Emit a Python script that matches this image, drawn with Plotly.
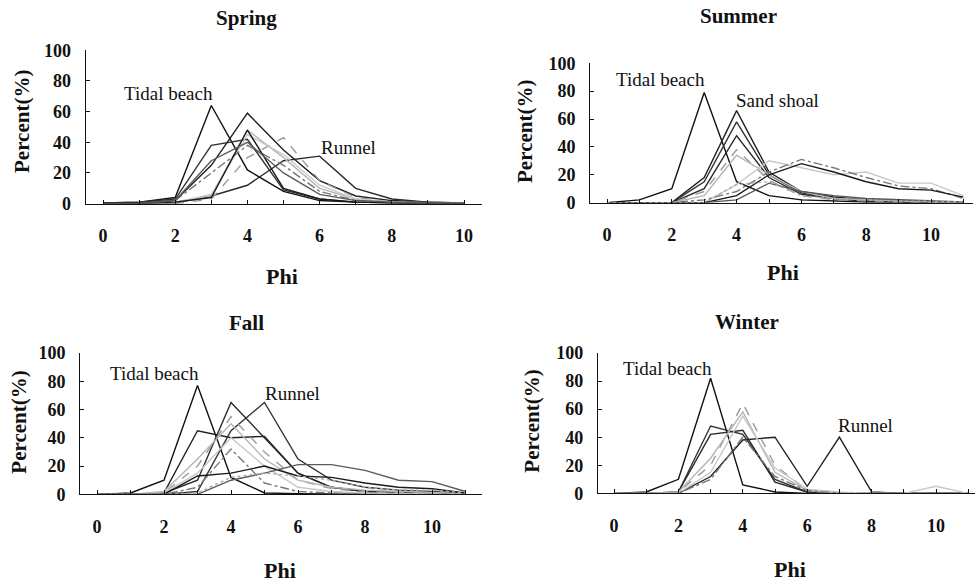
import plotly.graph_objects as go

# ---------------- data ----------------
phi_spring = [0, 1, 2, 3, 4, 5, 6, 7, 8, 9, 10]
spring_series = {
    "Tidal beach": [0.5, 1, 4, 64, 22, 8, 2, 1, 0.5, 0.3, 0.2],
    "S2": [0, 0.5, 2, 25, 59, 35, 15, 5, 2, 1, 0.5],
    "S3": [0.5, 1, 3, 38, 42, 9, 3, 1, 0.5, 0.3, 0.2],
    "Runnel": [0, 0, 0.5, 5, 12, 28, 31, 10, 3, 1, 0.5],
    "S5": [0, 0, 0, 3, 30, 43, 15, 4, 1, 0.5, 0.3],
    "S6": [0, 0, 1, 5, 48, 30, 10, 3, 1, 0.5, 0.3],
    "S7": [0, 0, 1, 6, 45, 32, 12, 3, 1, 0.5, 0.3],
    "S8": [0, 0, 2, 20, 38, 25, 8, 2, 1, 0.5, 0.3],
    "S9": [0, 0, 1, 4, 48, 10, 3, 1, 0.5, 0.3, 0.2],
    "S10": [0, 0, 2, 28, 40, 20, 6, 2, 1, 0.5, 0.3],
}

phi_summer = [0, 1, 2, 3, 4, 5, 6, 7, 8, 9, 10, 11]
summer_series = {
    "Tidal beach": [0, 2, 10, 79, 15, 5, 2, 1, 0.5, 0.3, 0.2, 0.1],
    "Sand shoal 1": [0, 0, 0, 18, 66, 22, 8, 4, 2, 1, 0.5, 0.3],
    "Sand shoal 2": [0, 0, 0, 15, 58, 20, 7, 3, 2, 1, 0.5, 0.3],
    "Sand shoal 3": [0, 0, 0, 10, 48, 18, 6, 3, 1, 1, 0.5, 0.3],
    "Sand shoal 4": [0, 0, 0, 8, 38, 16, 5, 2, 1, 0.5, 0.3, 0.2],
    "Sand shoal 5": [0, 0, 0, 5, 34, 20, 8, 3, 2, 1, 0.5, 0.3],
    "M1": [0, 0, 0, 0, 13, 30, 25, 20, 22, 14, 14, 5],
    "M2": [0, 0, 0, 2, 8, 22, 31, 25, 18, 12, 10, 3],
    "M3": [0, 0, 0, 0, 5, 20, 28, 22, 15, 10, 9, 4],
    "M4": [0, 0, 0, 0, 2, 14, 8, 5, 3, 2, 1, 0.5],
    "M5": [0, 0, 0, 0, 13, 15, 5, 3, 2, 1, 1, 0.5],
}

phi_fall = [0, 1, 2, 3, 4, 5, 6, 7, 8, 9, 10, 11]
fall_series = {
    "Tidal beach": [0, 1, 10, 77, 12, 1, 0.5, 0.2, 0, 0, 0, 0],
    "F2": [0, 0, 1, 45, 40, 41, 15, 5, 2, 1, 0.5, 0.2],
    "Runnel": [0, 0, 0, 2, 45, 65, 25, 10, 5, 3, 2, 1],
    "F4": [0, 0, 1, 10, 65, 40, 15, 5, 2, 1, 0.5, 0.3],
    "F5": [0, 0, 1, 20, 55, 30, 10, 4, 2, 1, 0.5, 0.3],
    "F6": [0, 0, 2, 25, 50, 25, 10, 5, 3, 2, 1, 0.5],
    "F7": [0, 0, 1, 15, 40, 20, 5, 2, 1, 0.5, 0.3, 0],
    "F8": [0, 0, 0, 5, 32, 8, 2, 1, 0, 0, 0, 0],
    "F9": [0, 0, 0, 13, 15, 20, 13, 12, 8, 5, 4, 1],
    "F10": [0, 0, 0, 0, 10, 15, 21, 21, 17, 10, 9, 2],
    "F11": [0, 0, 0, 1, 12, 15, 13, 10, 5, 3, 3, 1],
}

phi_winter = [0, 1, 2, 3, 4, 5, 6, 7, 8, 9, 10, 11]
winter_series = {
    "Tidal beach": [0, 1, 10, 82, 6, 1, 0, 0, 0, 0, 0, 0],
    "Runnel": [0, 0, 0, 12, 38, 40, 5, 40, 1, 0, 0, 0],
    "W3": [0, 0, 1, 48, 42, 10, 1, 0, 0, 0, 0, 0],
    "W4": [0, 0, 1, 42, 45, 8, 1, 0, 0, 0, 0, 0],
    "W5": [0, 0, 1, 20, 64, 20, 2, 0, 0, 0, 0, 0],
    "W6": [0, 0, 1, 25, 58, 15, 2, 0, 0, 0, 0, 0],
    "W7": [0, 0, 0, 15, 55, 18, 3, 1, 0, 0, 5, 0],
    "W8": [0, 0, 0, 10, 40, 12, 2, 0, 0, 0, 0, 0],
}

seasons = ["Spring", "Summer", "Fall", "Winter"]
y_ticks = [0, 20, 40, 60, 80, 100]
x_ticks = [0, 2, 4, 6, 8, 10]

# ---------------- styles ----------------
palette = ["#111111", "#222222", "#333333", "#2a2a2a", "#9a9a9a", "#b5b5b5",
           "#c8c8c8", "#777777", "#1a1a1a", "#5a5a5a", "#aaaaaa"]
dashes = ["solid", "solid", "solid", "solid", "dash", "solid",
          "solid", "dashdot", "solid", "solid", "dot"]

SERIF = "Liberation Serif, Times New Roman, serif"

fig = go.Figure()

panels = [
    (phi_spring, spring_series, "x", "y"),
    (phi_summer, summer_series, "x2", "y2"),
    (phi_fall, fall_series, "x3", "y3"),
    (phi_winter, winter_series, "x4", "y4"),
]

for phi, series, xa, ya in panels:
    for i, (name, vals) in enumerate(series.items()):
        fig.add_trace(go.Scatter(
            x=phi, y=vals, mode="lines", name=name, showlegend=False,
            xaxis=xa, yaxis=ya,
            line=dict(color=palette[i % len(palette)], width=1.4,
                      dash=dashes[i % len(dashes)]),
        ))

W, H = 977, 583
# vertical calibration of the captured page (observed = A + B * page_y)
CA, CB = 8.5, 0.97


def py(y_ref):
    return (y_ref - CA) / CB


def dom_x(p0, unit, lo, hi):
    return [max(0, (p0 + lo * unit) / W), min(1, (p0 + hi * unit) / W)]


def dom_y(p0, p100):
    return [max(0, 1 - py(p0) / H), min(1, 1 - py(p100) / H)]


# reference pixel geometry: (x px of phi=0, px per phi, range lo, range hi, y px of 0, y px of 100)
geom = [
    (103, 36.1, -0.48, 10.5, 203, 49),
    (607, 32.4, -0.52, 11.3, 202, 62),
    (97, 33.5, -0.5, 11.5, 495, 353),
    (614, 32.2, -0.5, 11.2, 494, 353),
]

tick_font = dict(family=SERIF, size=18, color="#111", weight="bold")
layout = dict(
    width=W, height=H, margin=dict(l=0, r=0, t=0, b=0),
    paper_bgcolor="white", plot_bgcolor="white", showlegend=False,
)
for k, (x0, u, lo, hi, y0, y100) in enumerate(geom):
    hi = min(hi, (W - x0) / u)
    sx = "" if k == 0 else str(k + 1)
    layout["xaxis" + sx] = dict(
        domain=dom_x(x0, u, lo, hi), range=[lo, hi], anchor="y" + sx,
        tickvals=x_ticks, ticks="inside", ticklen=4, tickcolor="#111",
        minor=dict(dtick=1, ticks="inside", ticklen=4, tickcolor="#111"),
        showline=True, linecolor="#111", linewidth=1.2,
        showgrid=False, zeroline=False, tickfont=tick_font,
        ticklabelstandoff=16,
    )
    layout["yaxis" + sx] = dict(
        domain=dom_y(y0, y100), range=[0, 100], anchor="x" + sx,
        tickvals=y_ticks, ticks="inside", ticklen=4, tickcolor="#111",
        showline=True, linecolor="#111", linewidth=1.2,
        showgrid=False, zeroline=False, tickfont=tick_font,
        ticklabelstandoff=10,
    )
fig.update_layout(**layout)

ann = []


def add_text(x, y, text, size, bold=False, angle=0):
    ann.append(dict(
        x=x / W, y=1 - py(y) / H, xref="paper", yref="paper", text=text,
        showarrow=False, textangle=angle, xanchor="center", yanchor="middle",
        font=dict(family=SERIF, size=size, color="#111",
                  weight="bold" if bold else "normal"),
    ))


for (x, y), t in zip([(247, 17), (738, 15), (247, 323), (747, 322)], seasons):
    add_text(x, y, t, 21, bold=True)
for x, y in [(22, 121), (525, 131), (19, 423), (532, 422)]:
    add_text(x, y, "Percent(%)", 21, bold=True, angle=-90)
for x, y in [(282, 276), (783, 272), (280, 572), (790, 570)]:
    add_text(x, y, "Phi", 22, bold=True)
for x, y, t in [(168, 92, "Tidal beach"), (348, 147, "Runnel"),
                (660, 78, "Tidal beach"), (777, 99, "Sand shoal"),
                (154, 374, "Tidal beach"), (292, 394, "Runnel"),
                (667, 369, "Tidal beach"), (865, 426, "Runnel")]:
    add_text(x, y, t, 19)

fig.update_layout(annotations=ann)
fig.write_html(
    "out.html",
    config={"displayModeBar": False},
    post_script="document.body.style.margin='0';document.body.style.overflow='hidden';",
)
